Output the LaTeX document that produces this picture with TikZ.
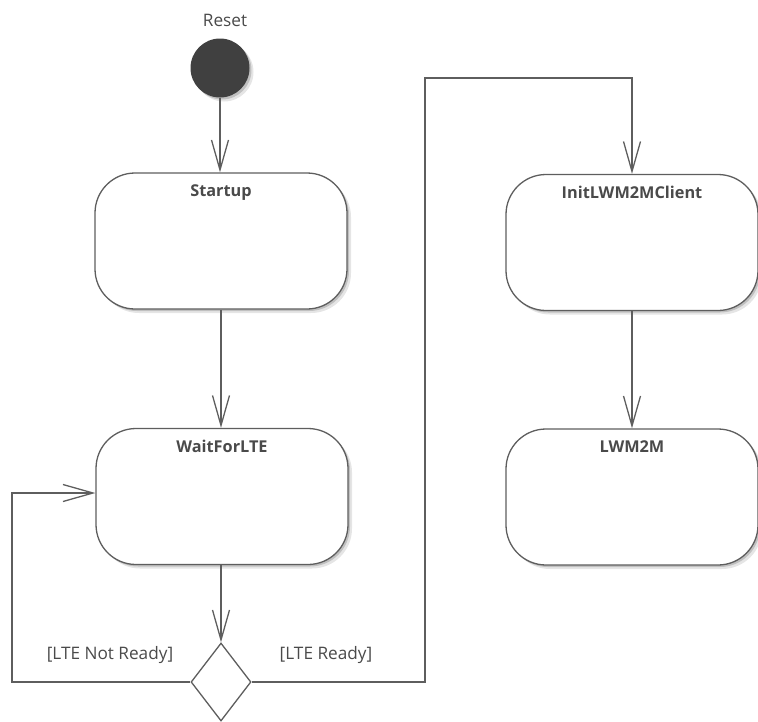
\documentclass[tikz,border=0pt]{standalone}
\usepackage{fontspec}
\setmainfont{Open Sans}
\usetikzlibrary{arrows.meta,shapes.geometric,shadows,calc}

\definecolor{linegray}{HTML}{5E5E5E}
\definecolor{textgray}{HTML}{4A4A4A}
\definecolor{startfill}{HTML}{404040}

\begin{document}
\begin{tikzpicture}[x=1pt,y=-1pt,
  softshadow/.style={
    drop shadow={shadow xshift=4pt,shadow yshift=-4pt,fill=black,opacity=.10},
    drop shadow={shadow xshift=2pt,shadow yshift=-2pt,fill=black,opacity=.16}},
  statebox/.style={draw=linegray,line width=1.3pt,fill=white,rounded corners=40pt,
    minimum width=252pt,minimum height=136pt,inner sep=0pt,softshadow},
  titled/.style={label={[anchor=base,inner sep=0pt,yshift=-24.5pt,text=textgray,
    font=\fontsize{16.3}{19}\selectfont\bfseries]north:#1}},
  startnode/.style={circle,fill=startfill,minimum size=59pt,inner sep=0pt,softshadow},
  decision/.style={diamond,draw=linegray,line width=1.3pt,fill=white,
    minimum width=60pt,minimum height=78pt,inner sep=0pt},
  guard/.style={text=textgray,font=\fontsize{17.2}{20}\selectfont,inner sep=0pt},
  flow/.style={draw=linegray,line width=1.3pt,
    -{Straight Barb[length=30pt,width=17pt,line width=1.3pt]}}
]
\useasboundingbox (0,0) rectangle (758,721);

% states
\node[startnode] (init) at (220,68) {};
\node[guard] (resetlbl) at (225,20) {Reset};
\node[statebox,titled=Startup] (startup) at (221,241) {};
\node[statebox,titled=WaitForLTE] (wait) at (222,496.5) {};
\node[decision] (dec) at (221,682) {};
\node[statebox,titled=InitLWM2MClient] (initclient) at (632,242.5) {};
\node[statebox,titled=LWM2M] (lwm) at (632,497) {};

% bends of the two guarded branches
\coordinate (loopL) at (12,493);
\coordinate (loopR) at (425,78);

% transitions
\draw[flow] (init) -- (init |- startup.north);
\draw[flow] (startup.south) -- (startup.south |- wait.north);
\draw[flow] (wait.south -| dec.north) -- (dec.north);
\draw[flow] (dec.west) -| (loopL) -- (loopL -| wait.west);
\draw[flow] (dec.east) -| (loopR) -| (initclient.north);
\draw[flow] (initclient.south) -- (lwm.north);

% guards
\node[guard] (notready) at (110,655) {[LTE Not Ready]};
\node[guard] (ready) at (326,655) {[LTE Ready]};
\end{tikzpicture}
\end{document}
